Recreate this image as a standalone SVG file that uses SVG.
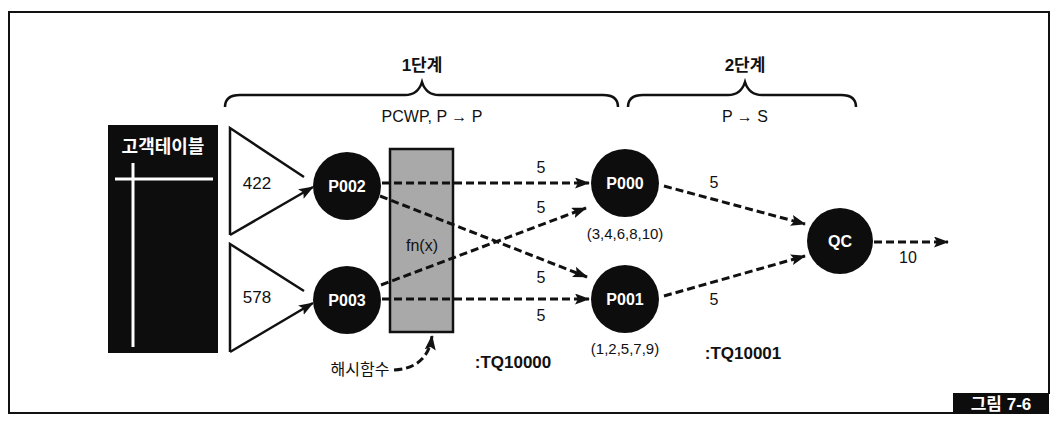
<svg xmlns="http://www.w3.org/2000/svg" width="1060" height="432" viewBox="0 0 1060 432">
<style>
.t{font-family:"Liberation Sans","Noto Sans CJK KR",sans-serif;fill:#111;font-size:16px;text-anchor:middle;dominant-baseline:central}
.k{font-family:"Liberation Sans","Noto Sans CJK KR",sans-serif;fill:#111;font-size:16px;text-anchor:middle;dominant-baseline:central}
.w{font-family:"Liberation Sans","Noto Sans CJK KR",sans-serif;fill:#fff;font-size:16px;font-weight:bold;text-anchor:middle;dominant-baseline:central}
.b{font-weight:bold}
.node{fill:#0d0d0d}
.dash{fill:none;stroke:#111;stroke-width:3;stroke-dasharray:8 4}
.solid{fill:none;stroke:#111;stroke-width:2.5}
.brace{fill:none;stroke:#111;stroke-width:2.5}
</style>
<defs>
<marker id="ah" markerUnits="userSpaceOnUse" markerWidth="15" markerHeight="12" refX="14" refY="5.5" orient="auto">
<path d="M0,0 L15,5.5 L0,11 L3,5.5 z" fill="#111"/>
</marker>
</defs>
<rect width="1060" height="432" fill="#fff"/>
<g id="frame">
<path d="M1049,394 L1049,12 L9,12 L9,413 L953,413" fill="none" stroke="#111" stroke-width="2"/>
<rect x="953" y="393" width="96" height="21" fill="#0d0d0d"/>
<text class="w" x="1001" y="404" style="font-size:17px">그림 7-6</text>
</g>
<g id="stage1">
<path class="brace" d="M225,107 Q225,95 240,95 L405,95 Q418,95 422,82 Q426,95 439,95 L603,95 Q618,95 618,107"/>
<text class="k b" x="422" y="65" style="font-size:17px">1단계</text>
<text class="t" x="432" y="116">PCWP, P → P</text>
</g>
<g id="stage2">
<path class="brace" d="M628,107 Q628,95 643,95 L728,95 Q741,95 745,82 Q749,95 762,95 L841,95 Q856,95 856,107"/>
<text class="k b" x="745" y="65" style="font-size:17px">2단계</text>
<text class="t" x="745" y="116">P → S</text>
</g>
<g id="table">
<rect x="108" y="125" width="110" height="228" fill="#0d0d0d"/>
<text class="w" x="163" y="147" style="font-size:18px">고객테이블</text>
<line x1="115" y1="179" x2="213" y2="179" stroke="#fff" stroke-width="3"/>
<line x1="133" y1="163" x2="133" y2="347" stroke="#fff" stroke-width="3"/>
</g>
<g id="tri422">
<path class="solid" d="M304,177 L230,128 L230,235"/>
<text class="t" x="257" y="183" style="font-size:17px">422</text>
</g>
<g id="tri578">
<path class="solid" d="M304,291 L230,244 L230,352"/>
<text class="t" x="257" y="297" style="font-size:17px">578</text>
</g>
<g id="hashbox">
<rect x="390" y="149" width="63" height="183" fill="#a9a9a9" stroke="#111" stroke-width="2.5"/>
<text class="t" x="422" y="245">fn(x)</text>
</g>
<g id="P002"><circle class="node" cx="347" cy="186" r="34"/><text class="w" x="347" y="186">P002</text></g>
<g id="P003"><circle class="node" cx="347" cy="300" r="34"/><text class="w" x="347" y="300">P003</text></g>
<g id="P000"><circle class="node" cx="625" cy="183" r="34"/><text class="w" x="625" y="183">P000</text></g>
<g id="P001"><circle class="node" cx="625" cy="299" r="34"/><text class="w" x="625" y="299">P001</text></g>
<g id="QC"><circle class="node" cx="840" cy="241" r="33"/><text class="w" x="840" y="241">QC</text></g>
<g id="connectors">
<line class="solid" x1="230" y1="235" x2="313" y2="187" marker-end="url(#ah)"/>
<line class="solid" x1="230" y1="352" x2="313" y2="303" marker-end="url(#ah)"/>
<line class="dash" x1="382" y1="183" x2="589" y2="183" marker-end="url(#ah)"/>
<line class="dash" x1="380" y1="196" x2="587" y2="277" marker-end="url(#ah)"/>
<line class="dash" x1="381" y1="285" x2="586" y2="208" marker-end="url(#ah)"/>
<line class="dash" x1="382" y1="299" x2="589" y2="299" marker-end="url(#ah)"/>
<line class="dash" x1="664" y1="186" x2="805" y2="224" marker-end="url(#ah)"/>
<line class="dash" x1="664" y1="296" x2="805" y2="256" marker-end="url(#ah)"/>
<line class="dash" x1="874" y1="242" x2="948" y2="242" marker-end="url(#ah)"/>
<path class="dash" d="M394,370 Q428,368 432,336" marker-end="url(#ah)"/>
</g>
<g id="labels">
<text class="t" x="541" y="167">5</text>
<text class="t" x="541" y="207">5</text>
<text class="t" x="541" y="277">5</text>
<text class="t" x="541" y="315">5</text>
<text class="t" x="714" y="182">5</text>
<text class="t" x="714" y="299">5</text>
<text class="t" x="908" y="257">10</text>
<text class="t" x="625" y="233" style="font-size:15px">(3,4,6,8,10)</text>
<text class="t" x="625" y="348" style="font-size:15px">(1,2,5,7,9)</text>
<text class="t b" x="513" y="362" style="font-size:17px">:TQ10000</text>
<text class="t b" x="743" y="353" style="font-size:17px">:TQ10001</text>
<text class="k" x="360" y="369">해시함수</text>
</g>
</svg>
